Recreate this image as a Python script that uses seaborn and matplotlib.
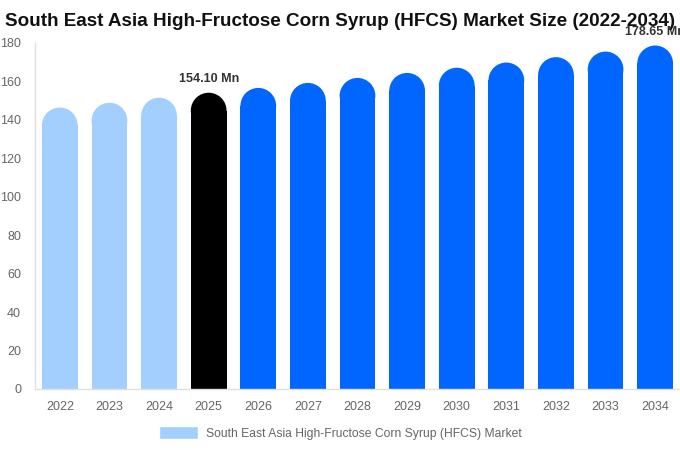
import matplotlib
matplotlib.use("Agg")
import matplotlib.pyplot as plt
import seaborn as sns
import pandas as pd
from matplotlib.patches import Ellipse, Patch

years = ["2022", "2023", "2024", "2025", "2026", "2027", "2028",
         "2029", "2030", "2031", "2032", "2033", "2034"]
values = [146.4, 148.9, 151.5, 154.10, 156.6, 159.2, 161.8,
          164.4, 167.1, 169.8, 172.6, 175.5, 178.65]
colors = ["#a3cfff"] * 3 + ["#000000"] + ["#0066ff"] * 9
title = "South East Asia High-Fructose Corn Syrup (HFCS) Market Size (2022-2034)"
legend_label = "South East Asia High-Fructose Corn Syrup (HFCS) Market"

sns.set_style("white")
plt.rcParams["font.family"] = ["Liberation Sans", "DejaVu Sans"]

df = pd.DataFrame({"year": years, "value": values})

fig = plt.figure(figsize=(6.8, 4.5), dpi=100)
ax = fig.add_axes([0.0515, 0.1356, 0.9485, 0.769])

sns.barplot(data=df, x="year", y="value", hue="year", palette=colors,
            legend=False, width=0.72, saturation=1, linewidth=0, ax=ax)

ax.set_ylim(0, 180)
ax.set_yticks(range(0, 181, 20))

# rounded tops: shorten each bar by the cap radius and add a half-ellipse cap
px_per_unit = (0.769 * 450) / 180
for p in list(ax.patches):
    x, w, h = p.get_x(), p.get_width(), p.get_height()
    ry = (w * 0.9485 * 680 / 13) / 2 / px_per_unit
    p.set_height(h - ry)
    ax.add_patch(Ellipse((x + w / 2, h - ry), w, 2 * ry, linewidth=0,
                         facecolor=p.get_facecolor(), edgecolor="none"))

for i in (3, 12):
    ax.text(i, values[i] + 4, f"{values[i]:.2f} Mn", ha="center", va="bottom",
            fontsize=9, fontweight="bold", color="#333333", clip_on=False)

ax.set_xlabel("")
ax.set_ylabel("")
ax.tick_params(axis="both", length=0, labelsize=9, colors="#666666")
ax.tick_params(axis="x", pad=9)
ax.tick_params(axis="y", pad=10)
for s in ("top", "right"):
    ax.spines[s].set_visible(False)
for s in ("left", "bottom"):
    ax.spines[s].set_color("#e0e0e0")
    ax.spines[s].set_linewidth(1)

fig.text(0.5, 0.953, title, ha="center", va="center", fontsize=13.6,
         fontweight="bold", color="#111111")

fig.legend(handles=[Patch(facecolor="#a3cfff", label=legend_label)],
           loc="center", bbox_to_anchor=(0.5, 0.038), frameon=False,
           fontsize=8.7, labelcolor="#666666", handlelength=3.3, handleheight=1.3,
           handletextpad=0.6)

fig.savefig("out.png", dpi=100)
